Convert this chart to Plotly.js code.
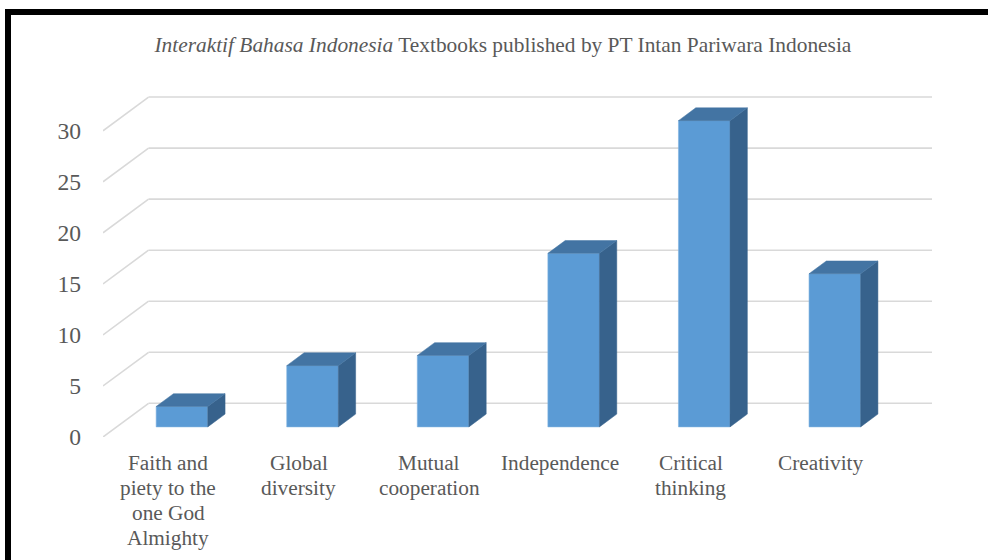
<!DOCTYPE html>
<html>
<head>
<meta charset="utf-8">
<script src="https://cdn.plot.ly/plotly-3.0.1.min.js"></script>
<style>
  html, body { margin: 0; padding: 0; background: #fff; }
  #wrap { position: relative; width: 988px; height: 560px; overflow: hidden; }
  #chart { position: absolute; left: 0; top: 0; width: 988px; height: 560px; }
  #frame { position: absolute; left: 5px; top: 9px; width: 1100px; height: 700px;
           border-left: 6px solid #000; border-top: 6px solid #000; pointer-events: none; }
</style>
</head>
<body>
<div id="wrap">
  <div id="chart"></div>
  <div id="frame"></div>
</div>
<script>
// ---- data ----
const categories = [
  "Faith and<br>piety to the<br>one God<br>Almighty",
  "Global<br>diversity",
  "Mutual<br>cooperation",
  "Independence",
  "Critical<br>thinking",
  "Creativity"
];
const values = [2, 6, 7, 17, 30, 15];
const yTicks = [0, 5, 10, 15, 20, 25, 30];

// ---- 3D projection helpers (in data units) ----
const DEPTH_X = 0.349;   // full floor depth, category units
const DEPTH_Y = 3.30;    // full floor depth, value units
const BAR_FRONT = 0.30;  // bar front at this depth fraction
const BAR_DEPTH = 0.38;  // bar thickness as a depth fraction
const BAR_W = 0.395;
const SERIF = 'Liberation Serif';
const GREY = '#595959';

const xs = categories.map((_, i) => i);
const fx = BAR_FRONT * DEPTH_X, fy = BAR_FRONT * DEPTH_Y;
const ddx = BAR_DEPTH * DEPTH_X, ddy = BAR_DEPTH * DEPTH_Y;

const traces = [];
// front faces
traces.push({
  type: 'bar',
  x: xs.map(x => x + fx),
  y: values,
  base: values.map(() => fy),
  width: BAR_W,
  marker: { color: '#5B9BD5', line: { color: '#7FB2E0', width: 0.6 } },
  hoverinfo: 'skip',
  showlegend: false
});
// side and top faces
values.forEach((v, i) => {
  const xl = i + fx - BAR_W / 2, xr = i + fx + BAR_W / 2;
  const b = fy, t = fy + v;
  traces.push({
    type: 'scatter', mode: 'lines', fill: 'toself',
    x: [xr, xr + ddx, xr + ddx, xr, xr],
    y: [b, b + ddy, t + ddy, t, b],
    fillcolor: '#37628C', line: { color: '#37628C', width: 0.5 },
    hoverinfo: 'skip', showlegend: false
  });
  traces.push({
    type: 'scatter', mode: 'lines', fill: 'toself',
    x: [xl, xr, xr + ddx, xl + ddx, xl],
    y: [t, t, t + ddy, t + ddy, t],
    fillcolor: '#4374A3', line: { color: '#4374A3', width: 0.5 },
    hoverinfo: 'skip', showlegend: false
  });
});

// gridlines: back wall + left diagonal, from tick values
const x0 = -0.5, x1 = categories.length - 0.5;
const shapes = [];
yTicks.forEach(v => {
  shapes.push({ type: 'line', layer: 'below', xref: 'x', yref: 'y',
    x0: x0 + DEPTH_X, x1: x1 + DEPTH_X, y0: v + DEPTH_Y, y1: v + DEPTH_Y,
    line: { color: '#D9D9D9', width: 1.6 } });
  shapes.push({ type: 'line', layer: 'below', xref: 'x', yref: 'y',
    x0: x0, x1: x0 + DEPTH_X, y0: v, y1: v + DEPTH_Y,
    line: { color: '#D9D9D9', width: 1.6 } });
});

// category labels, one annotation per line (tighter line spacing like the original)
const annotations = [];
categories.forEach((c, i) => {
  c.split('<br>').forEach((line, k) => {
    annotations.push({
      xref: 'x', yref: 'y', x: i, y: 0,
      yshift: -(25.5 + 25 * k), xanchor: 'center', yanchor: 'middle',
      showarrow: false, text: line,
      font: { family: SERIF, size: 21.3, color: GREY }
    });
  });
});

const layout = {
  width: 988, height: 560,
  paper_bgcolor: '#fff', plot_bgcolor: 'rgba(0,0,0,0)',
  margin: { l: 103, r: 56, t: 94, b: 123 },
  showlegend: false,
  font: { family: SERIF, color: GREY },
  title: {
    text: '<i>Interaktif Bahasa Indonesia</i> Textbooks published by PT Intan Pariwara Indonesia',
    font: { family: SERIF, size: 21.4, color: GREY },
    x: 0.509, xref: 'container', xanchor: 'center',
    y: 0.92, yref: 'container', yanchor: 'middle'
  },
  xaxis: {
    range: [x0, x1 + DEPTH_X],
    tickmode: 'array', tickvals: xs, ticktext: categories,
    showticklabels: false,
    showgrid: false, zeroline: false, showline: false, ticks: '',
    fixedrange: true
  },
  yaxis: {
    range: [0, 33.6],
    tickmode: 'array', tickvals: yTicks, ticktext: yTicks.map(String),
    showgrid: false, zeroline: false, showline: false, ticks: '',
    ticklabelstandoff: 21,
    tickfont: { family: SERIF, size: 23.6, color: GREY },
    fixedrange: true
  },
  shapes: shapes,
  annotations: annotations,
  bargap: 0
};

Plotly.newPlot('chart', traces, layout, { displayModeBar: false, staticPlot: true });
</script>
</body>
</html>
